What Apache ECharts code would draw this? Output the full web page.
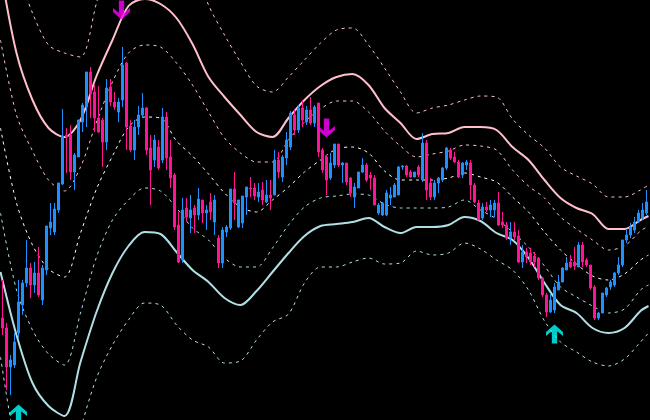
<!DOCTYPE html>
<html><head><meta charset="utf-8">
<script src="https://cdn.jsdelivr.net/npm/echarts/dist/echarts.min.js"></script>
<style>html,body{margin:0;padding:0;background:#000}#c{width:650px;height:420px}</style>
</head><body><div id="c"></div>
<script>
// Candle values (units: chart points, 0 = bottom edge, 420 = top edge)
const openV = [102,92,53,55,87,115,137,152,135,147,120,150,192,188,210,236,285,285,248,263,298,313,348,328,302,300,278,333,318,308,320,357,294,270,293,305,312,272,260,273,260,303,263,245,195,160,212,202,212,205,220,207,218,198,182,157,188,192,231,193,197,223,232,232,223,230,218,225,225,260,243,262,273,305,290,312,298,310,297,317,270,263,242,255,276,255,257,242,223,232,248,255,245,242,207,205,205,222,223,225,253,254,248,243,253,240,277,237,223,237,240,252,270,263,258,245,255,257,235,217,202,213,210,210,217,198,195,182,188,184,158,168,167,164,162,142,125,108,110,130,138,150,158,158,153,175,160,155,133,102,107,125,133,135,147,155,180,185,190,198,202,207];
const closeV = [92,53,60,78,118,137,152,135,147,125,152,194,198,211,237,284,283,248,265,300,315,348,327,302,288,278,332,318,313,318,355,293,270,293,305,312,270,250,280,252,303,262,242,193,158,210,203,210,205,221,207,210,208,220,157,190,193,231,217,220,224,233,231,224,228,220,225,222,260,248,263,280,307,290,312,300,310,297,313,268,250,240,257,276,255,257,238,227,233,248,255,240,242,215,215,217,227,225,235,253,254,245,243,248,245,277,230,223,237,242,252,272,262,258,243,257,258,235,218,200,213,210,215,217,195,195,182,188,183,158,168,163,158,158,142,125,108,120,133,138,152,157,153,154,175,158,155,132,102,107,127,132,138,147,155,180,185,193,198,207,210,218];
const lowV = [85,30,25,52,82,105,133,122,127,123,115,145,185,185,207,235,247,240,230,263,288,293,302,288,287,253,270,314,310,298,313,270,268,260,285,302,265,215,253,250,257,250,232,190,157,157,198,187,187,200,197,190,200,185,152,152,183,190,200,192,192,205,223,220,218,215,217,210,225,242,238,255,270,285,287,293,295,295,293,263,247,225,240,252,253,237,235,223,212,232,247,238,230,215,205,204,204,215,223,225,250,243,242,243,243,238,220,220,220,227,238,250,260,257,242,242,250,220,217,200,200,208,203,203,194,192,180,175,180,157,152,157,155,153,140,123,103,107,107,130,138,150,152,150,153,153,153,130,100,100,107,123,130,133,145,153,177,182,187,197,200,205];
const highV = [140,97,65,87,140,140,180,157,158,173,155,194,217,217,237,311,292,295,267,300,317,348,353,335,334,302,341,341,328,322,373,358,300,300,314,327,313,285,285,280,312,308,280,247,208,222,222,225,215,232,220,215,227,225,185,193,195,231,248,220,224,233,243,237,237,238,240,240,270,268,265,288,309,310,315,320,314,323,315,317,272,265,267,276,276,258,257,243,237,248,262,257,248,245,217,218,230,233,237,254,255,255,250,248,255,287,280,242,240,243,253,273,272,268,260,258,260,260,237,220,217,218,220,220,228,208,198,198,198,190,175,172,172,168,163,143,127,127,137,145,153,163,165,173,178,178,162,155,135,108,127,133,140,148,163,180,190,197,203,210,217,230];

// Envelope bands, sampled at these bar positions
const bandX = [-0.5,3.5,7.5,11.5,15.5,19.5,23.5,27.5,31.5,35.5,39.5,43.5,47.5,51.5,55.5,59.5,63.5,67.5,71.5,75.5,79.5,83.5,87.5,91.5,95.5,99.5,103.5,107.5,111.5,115.5,119.5,123.5,127.5,131.5,135.5,139.5,143.5,147.5,151.5,155.5,159.5,161.5];
const upper3 = [480,450,407,375,367,363,417,470,500,510,505,490,460,415,385,358,334,328,343,360,377,390,392,375,352,328,307,312,315,320,324,323,301,285,272,253,244,236,223,223,230,235];
const upper2 = [450,367,320,292,283,300,344,380,414,421,416,402,376,343,323,305,288,283,302,320,334,343,346,335,312,297,281,286,287,293,293,290,273,260,240,222,212,206,191,191,200,204];
const upper1 = [380,305,269,240,229,253,298,338,367,375,373,357,335,308,282,267,258,258,280,298,311,319,319,308,289,274,263,266,269,275,274,270,250,234,222,203,191,180,170,174,189,194];
const middle = [292,217,175,151,143,187,231,264,293,303,302,279,264,246,227,213,208,220,233,248,260,271,273,267,249,240,240,240,242,247,243,238,223,208,188,170,156,144,140,146,160,165];
const lower1 = [207,130,90,66,55,107,163,200,220,232,229,212,192,180,162,153,153,172,195,213,222,224,226,225,216,212,212,212,213,220,210,201,188,173,154,133,123,114,107,111,130,135];
const lower2 = [148,85,37,14,4,58,108,147,174,188,186,168,150,138,122,115,129,148,167,184,194,196,198,202,193,187,193,193,195,203,199,187,180,162,137,115,107,92,87,92,109,114];
const lower3 = [63,-30,-80,-100,-80,-10,42,75,100,117,115,95,80,73,57,59,80,98,106,137,153,153,158,162,156,157,169,165,167,177,171,160,150,130,99,78,68,58,54,61,78,87];

// Signal arrows: [bar, level]
const sellSignals = [[29.75, 410], [81, 292]];
const buySignals = [[4, 6], [138, 86]];

const chart = echarts.init(document.getElementById('c'), null, {renderer: 'canvas'});
const cats = openV.map((_, i) => String(i));
const candles = openV.map((o, i) => [o, closeV[i], lowV[i], highV[i]]);
const pts = arr => bandX.map((x, k) => [x, arr[k]]);
function band(data, color, width, dashed) {
  return {
    type: 'line', xAxisIndex: 1, yAxisIndex: 0, data: pts(data),
    symbol: 'none', smooth: 0.3, silent: true, z: 2, clip: true,
    lineStyle: {color: color, width: width, type: dashed ? [3, 4] : 'solid'}
  };
}
const upPath = 'path://M8 0 L16 8 L16 12 L10.5 7 L10.5 20 L5.5 20 L5.5 7 L0 12 L0 8 Z';
const downPath = 'path://M8 20 L16 12 L16 8 L10.5 13 L10.5 0 L5.5 0 L5.5 13 L0 8 L0 12 Z';

chart.setOption({
  backgroundColor: '#000000',
  animation: false,
  grid: {left: 0.5, right: 1.5, top: 0, bottom: 0},
  xAxis: [
    {type: 'category', data: cats, boundaryGap: true, show: false},
    {type: 'value', min: -0.5, max: 161.5, show: false}
  ],
  yAxis: [{type: 'value', min: 0, max: 420, show: false, splitLine: {show: false}}],
  series: [
    band(upper3, '#FFC0CB', 1, true),
    band(upper2, '#FFC0CB', 2, false),
    band(upper1, '#FFC0CB', 1, true),
    band(middle, '#FFFFFF', 1, true),
    band(lower1, '#B0E0E6', 1, true),
    band(lower2, '#B0E0E6', 2, false),
    band(lower3, '#B0E0E6', 1, true),
    {
      type: 'candlestick', xAxisIndex: 0, yAxisIndex: 0, data: candles, z: 5,
      barWidth: 2, silent: true,
      itemStyle: {color: '#1E90FF', color0: '#FF1493', borderColor: '#1E90FF', borderColor0: '#FF1493', borderWidth: 1}
    },
    {
      type: 'scatter', xAxisIndex: 1, yAxisIndex: 0, data: sellSignals, z: 6, silent: true,
      symbol: downPath, symbolSize: [17, 19], itemStyle: {color: '#FF00FF'}
    },
    {
      type: 'scatter', xAxisIndex: 1, yAxisIndex: 0, data: buySignals, z: 6, silent: true,
      symbol: upPath, symbolSize: [17, 19], itemStyle: {color: '#00FFFF'}
    }
  ]
});
</script>
</body></html>
